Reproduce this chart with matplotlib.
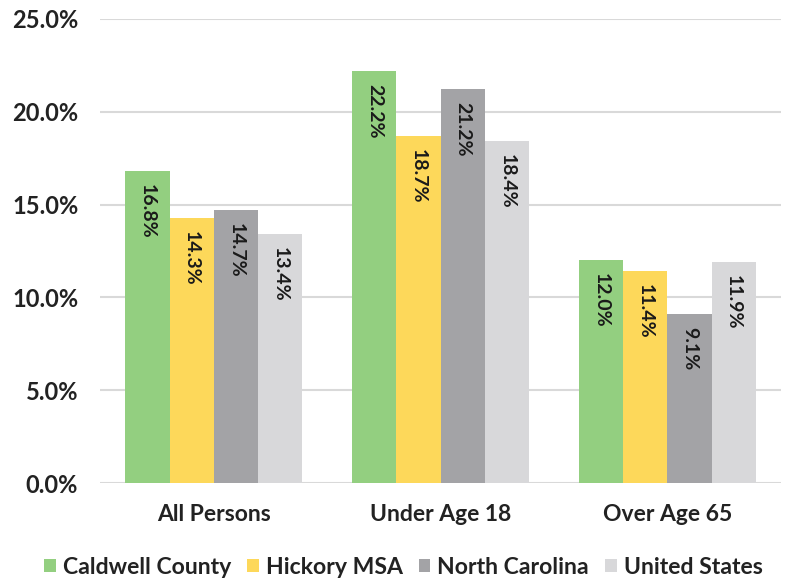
import matplotlib
matplotlib.use("Agg")
import matplotlib.pyplot as plt
import numpy as np

plt.rcParams['font.family'] = ['Lato', 'DejaVu Sans']

categories = ["All Persons", "Under Age 18", "Over Age 65"]
series_names = ["Caldwell County", "Hickory MSA", "North Carolina", "United States"]
caldwell = [16.8, 22.2, 12.0]
hickory = [14.3, 18.7, 11.4]
north_carolina = [14.7, 21.2, 9.1]
united_states = [13.4, 18.4, 11.9]
series_values = [caldwell, hickory, north_carolina, united_states]
colors = ["#93cf80", "#fdd85a", "#a3a3a6", "#d8d8da"]
yticks = [0, 5, 10, 15, 20, 25]

fig = plt.figure(figsize=(7.91, 5.81), dpi=100)
ax = fig.add_axes([0.127, 0.168, 0.86, 0.80])

x = np.arange(len(categories))
w = 0.195
for i, (name, vals, c) in enumerate(zip(series_names, series_values, colors)):
    pos = x + (i - 1.5) * w
    bars = ax.bar(pos, vals, width=w, color=c, label=name, zorder=3)
    for b, v in zip(bars, vals):
        ax.text(b.get_x() + b.get_width() / 2, v - 0.7, f"{v:.1f}%",
                rotation=270, ha='center', va='top', fontsize=14,
                fontweight='bold', color='#1a1a1a', zorder=4)

ax.set_xlim(-0.5, 2.5)
ax.set_ylim(0, 25)
ax.set_yticks(yticks)
ax.set_yticklabels([f"{t:.1f}%" for t in yticks], fontsize=17, fontweight='bold', color='#222222')
ax.set_xticks(x)
ax.set_xticklabels(categories, fontsize=16.5, fontweight='bold', color='#222222')
ax.tick_params(axis='x', length=0, pad=15)
ax.tick_params(axis='y', length=0, pad=16)
ax.grid(axis='y', color='#d9d9d9', linewidth=1.5, zorder=0)
for s in ax.spines.values():
    s.set_visible(False)

leg = fig.legend(loc='lower center', bbox_to_anchor=(0.51, -0.03), ncol=4, frameon=False,
                 handlelength=0.5, handleheight=0.5, handletextpad=0.3,
                 columnspacing=0.7, prop={'weight': 'bold', 'size': 16.6})
for t in leg.get_texts():
    t.set_color('#222222')

fig.savefig("out.png", dpi=100, facecolor='white')
